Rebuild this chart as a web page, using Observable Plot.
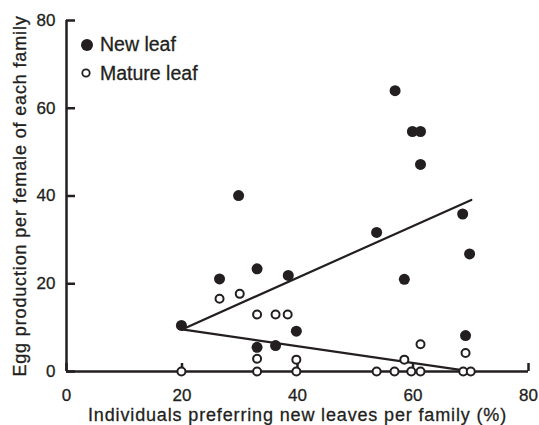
<!DOCTYPE html>
<html><head><meta charset="utf-8">
<script src="https://cdn.jsdelivr.net/npm/d3@7"></script>
<script src="https://cdn.jsdelivr.net/npm/@observablehq/plot@0.6"></script>
<style>
body{margin:0;background:#fff;}
#wrap{position:relative;width:539px;height:425px;overflow:hidden;}
#legend{position:absolute;left:0;top:0;}
#wrap svg text{stroke:#231f20;stroke-width:0.3px;}
</style></head><body><div id="wrap"></div>
<script>
// New leaf (filled circles)
const newX = [19.9, 26.5, 29.8, 33.0, 33.0, 36.2, 38.4, 39.8, 53.7, 56.9, 58.5, 59.9, 61.3, 61.3, 68.6, 69.8, 69.1];
const newY = [10.5, 21.1, 40.1, 23.4, 5.5, 5.9, 21.9, 9.2, 31.7, 64.0, 21.0, 54.7, 54.7, 47.2, 35.9, 26.8, 8.2];
// Mature leaf (open circles)
const matX = [26.5, 30.0, 33.0, 36.2, 38.3, 33.0, 39.8, 19.9, 33.0, 39.8, 53.7, 56.8, 59.7, 61.3, 68.7, 70.0, 61.3, 69.1, 58.5];
const matY = [16.6, 17.7, 13.0, 13.0, 13.0, 2.9, 2.7, 0, 0, 0, 0, 0, 0, 0, 0, 0, 6.2, 4.2, 2.7];
// Fitted lines (endpoints)
const newFitX = [20.0, 70.1];
const newFitY = [9.6, 39.1];
const matFitX = [20.0, 69.1];
const matFitY = [9.6, 0.2];
const xTicks = [0, 20, 40, 60, 80];
const yTicks = [0, 20, 40, 60, 80];
const xLabel = "Individuals preferring new leaves per family (%)";
const yLabel = "Egg production per female of each family";
const seriesNames = ["New leaf", "Mature leaf"];

const ink = "#231f20";
const newPts = newX.map((x, i) => ({x, y: newY[i]}));
const matPts = matX.map((x, i) => ({x, y: matY[i]}));
const newFit = newFitX.map((x, i) => ({x, y: newFitY[i]}));
const matFit = matFitX.map((x, i) => ({x, y: matFitY[i]}));

const plot = Plot.plot({
  width: 539, height: 425,
  marginLeft: 66, marginRight: 11, marginTop: 20, marginBottom: 54,
  style: {fontFamily: "'Liberation Sans', Arial, sans-serif", fontSize: "17px", color: ink, background: "#fff"},
  x: {domain: [0, 80]},
  y: {domain: [0, 80]},
  marks: [
    Plot.axisX({ticks: xTicks, tickSize: 0, tickPadding: 17, fontSize: 17, fill: ink,
      label: xLabel, labelAnchor: "center", labelOffset: 49, labelArrow: "none"}),
    Plot.axisY({ticks: yTicks, tickSize: 0, tickPadding: 11, fontSize: 17, fill: ink,
      label: yLabel, labelAnchor: "center", labelOffset: 53, labelArrow: "none"}),
    // inward tick marks
    Plot.ruleX(xTicks, {x: d => d, y1: 0, y2: 0, insetTop: -8, stroke: ink, strokeWidth: 2.5}),
    Plot.ruleY(yTicks, {y: d => d, x1: 0, x2: 0, insetRight: -9, stroke: ink, strokeWidth: 2.5}),
    // axis lines
    Plot.ruleX([0], {stroke: ink, strokeWidth: 2.5}),
    Plot.ruleY([0], {stroke: ink, strokeWidth: 2.5}),
    Plot.line(newFit, {x: "x", y: "y", stroke: ink, strokeWidth: 2.2}),
    Plot.line(matFit, {x: "x", y: "y", stroke: ink, strokeWidth: 2.2}),
    Plot.dot(newPts, {x: "x", y: "y", r: 5.5, fill: ink, stroke: "none"}),
    Plot.dot(matPts, {x: "x", y: "y", r: 4, fill: "#fff", stroke: ink, strokeWidth: 2})
  ]
});

const wrap = document.getElementById("wrap");
wrap.appendChild(plot);

d3.select(plot).selectAll('g[aria-label="x-axis label"] text, g[aria-label="y-axis label"] text')
  .attr("font-size", "18px").style("letter-spacing", "0.85px");

// legend
const leg = d3.select(wrap).append("svg").attr("id", "legend").attr("width", 240).attr("height", 100)
  .style("font-family", "'Liberation Sans', Arial, sans-serif").style("font-size", "19.5px");
leg.append("circle").attr("cx", 87).attr("cy", 45).attr("r", 6).attr("fill", ink);
leg.append("circle").attr("cx", 86).attr("cy", 73).attr("r", 3.7).attr("fill", "#fff").attr("stroke", ink).attr("stroke-width", 1.8);
leg.append("text").attr("x", 100).attr("y", 51).attr("fill", ink).text(seriesNames[0]);
leg.append("text").attr("x", 100).attr("y", 80).attr("fill", ink).text(seriesNames[1]);
</script>
</body></html>
